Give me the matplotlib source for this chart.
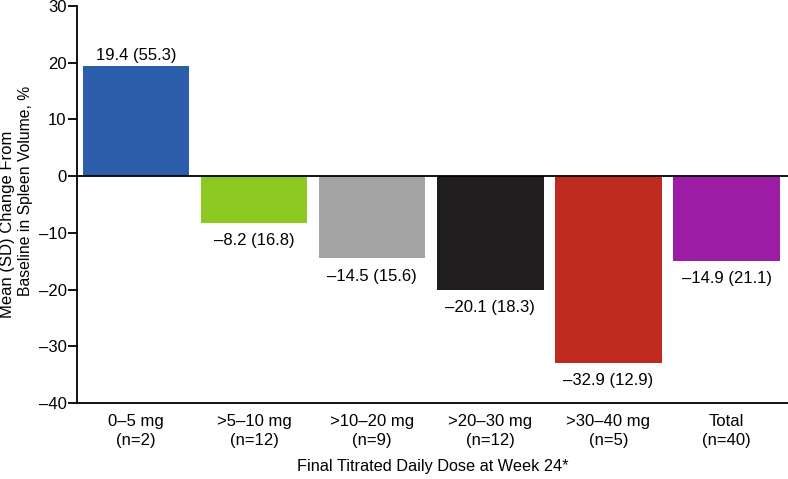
import matplotlib
matplotlib.use("Agg")
import matplotlib.pyplot as plt
import numpy as np

plt.rcParams['font.family'] = ['Liberation Sans', 'DejaVu Sans']

# --- data ---
categories = ["0\u20135 mg\n(n=2)", ">5\u201310 mg\n(n=12)", ">10\u201320 mg\n(n=9)",
              ">20\u201330 mg\n(n=12)", ">30\u201340 mg\n(n=5)", "Total\n(n=40)"]
means = [19.4, -8.2, -14.5, -20.1, -32.9, -14.9]
sds = [55.3, 16.8, 15.6, 18.3, 12.9, 21.1]
colors = ["#2b5dab", "#8cc820", "#a3a3a3", "#1f1d1e", "#bf2a1f", "#9c1ca6"]

fig = plt.figure(figsize=(7.88, 4.79), dpi=100)
ax = fig.add_axes([77 / 788, 1 - 403 / 479, 1 - 77 / 788, (403 - 6) / 479])

x = np.arange(len(categories))
ax.bar(x, means, width=0.9, color=colors, zorder=2)
ax.axhline(0, color="black", lw=1.3, zorder=3)

# value labels
for xi, m, s in zip(x, means, sds):
    txt = f"{m:.1f} ({s:.1f})".replace("-", "\u2013")
    if m >= 0:
        ax.text(xi, m + 0.5, txt, ha="center", va="bottom", fontsize=12)
    else:
        ax.text(xi, m - 1.8, txt, ha="center", va="top", fontsize=12)

ax.set_xlim(-0.5, 5.52)
ax.set_ylim(-40, 30)
ax.set_yticks(np.arange(-40, 31, 10))
ax.set_yticklabels([str(v).replace("-", "\u2013") for v in range(-40, 31, 10)], fontsize=12)
ax.set_xticks(x)
ax.set_xticklabels(categories, fontsize=12, linespacing=1.3)
ax.tick_params(axis="x", length=0, pad=8)
ax.tick_params(axis="y", length=6.5, width=1.3, direction="out", pad=1)

for side in ["top", "right"]:
    ax.spines[side].set_visible(False)
ax.spines["left"].set_linewidth(1.3)
ax.spines["bottom"].set_linewidth(1.3)

# y label: two lines, each placed by hand (they are offset in the reference)
fig.text(8 / 788, 1 - 224 / 479, "Mean (SD) Change From",
         rotation=90, ha="center", va="center", fontsize=12)
fig.text(26 / 788, 1 - 191 / 479, "Baseline in Spleen Volume, %",
         rotation=90, ha="center", va="center", fontsize=11.3)
ax.set_xlabel("Final Titrated Daily Dose at Week 24*", fontsize=11.7, labelpad=8)

fig.savefig("out.png", dpi=100)
